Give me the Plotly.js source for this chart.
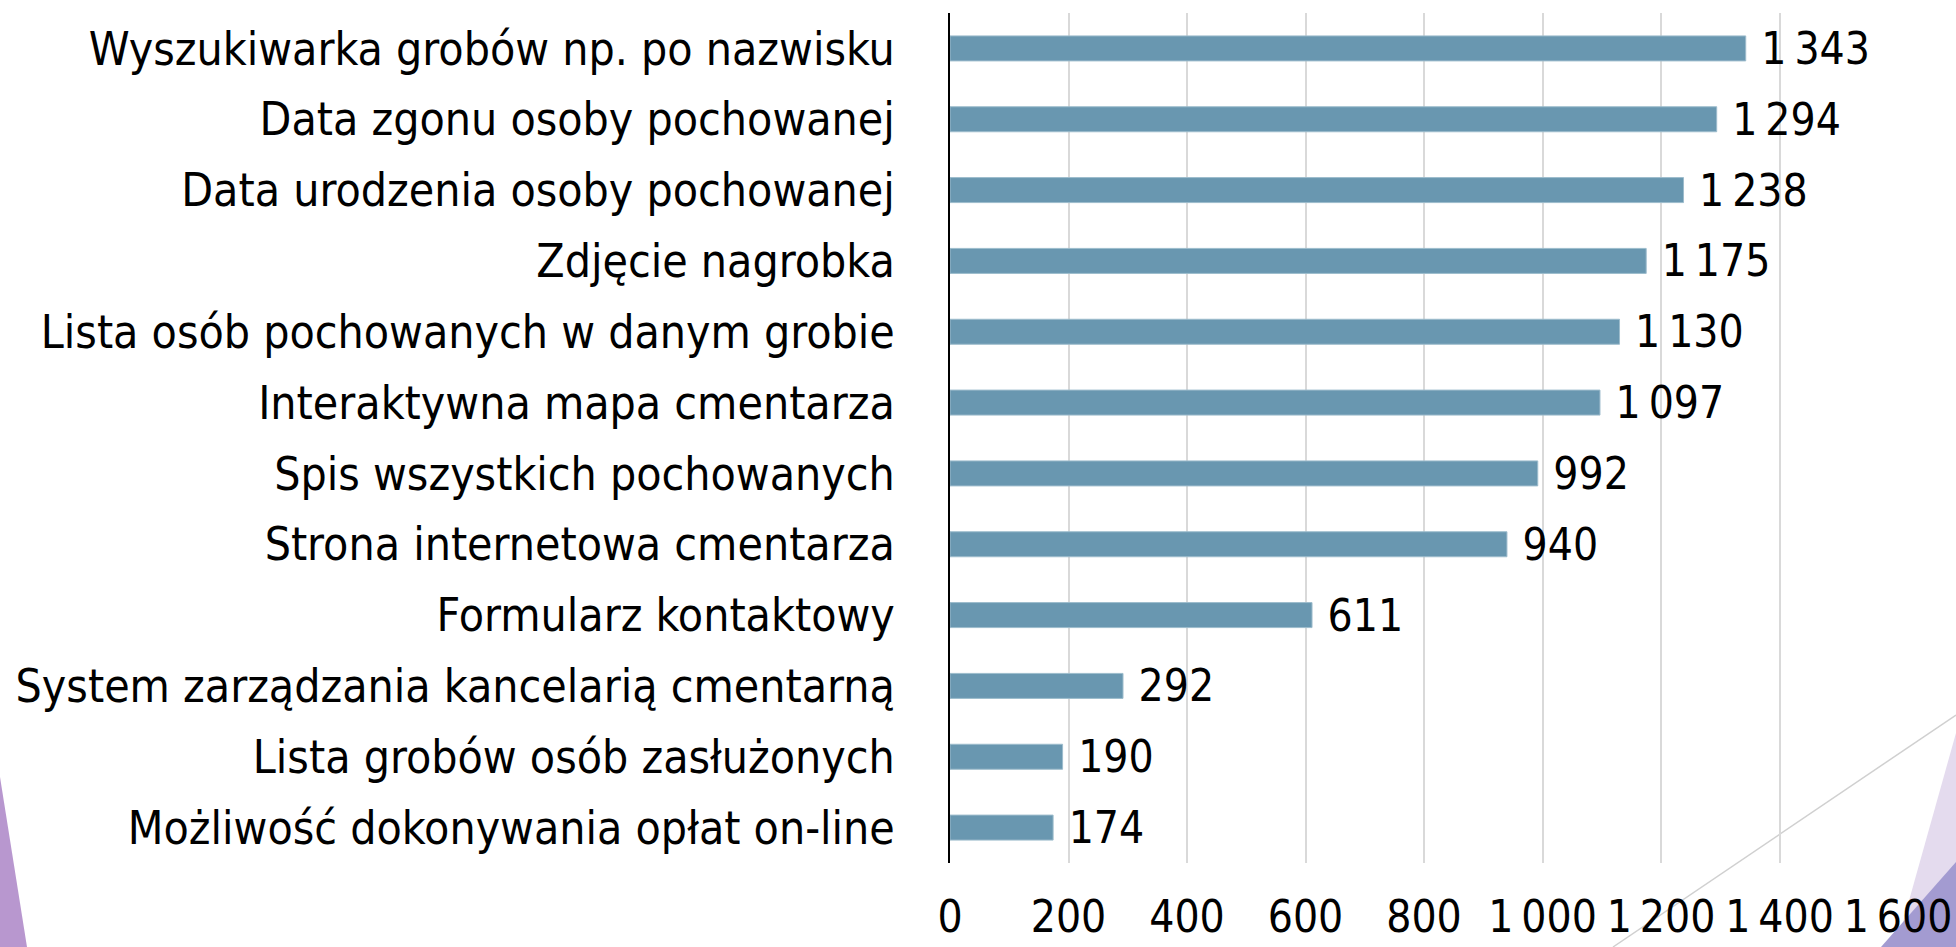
<!DOCTYPE html>
<html>
<head>
<meta charset="utf-8">
<script src="https://cdn.plot.ly/plotly-3.0.1.min.js"></script>
<style>
  html, body { margin: 0; padding: 0; background: #ffffff; }
  #chart { width: 1956px; height: 947px; }
</style>
</head>
<body>
<div id="chart"></div>
<script>
// Categories, top to bottom as in the reference
const categories = [
  "Wyszukiwarka grobów np. po nazwisku",
  "Data zgonu osoby pochowanej",
  "Data urodzenia osoby pochowanej",
  "Zdjęcie nagrobka",
  "Lista osób pochowanych w danym grobie",
  "Interaktywna mapa cmentarza",
  "Spis wszystkich pochowanych",
  "Strona internetowa cmentarza",
  "Formularz kontaktowy",
  "System zarządzania kancelarią cmentarną",
  "Lista grobów osób zasłużonych",
  "Możliwość dokonywania opłat on-line"
];
const counts = [1343, 1294, 1238, 1175, 1130, 1097, 992, 940, 611, 292, 190, 174];
const xTickValues = [0, 200, 400, 600, 800, 1000, 1200, 1400, 1600];

const FONT = "'DejaVu Sans Condensed', 'Liberation Sans Narrow', 'DejaVu Sans', sans-serif";
const W = 1956, H = 947;
const M = {l: 950, r: 58, t: 13, b: 84};
const PW = W - M.l - M.r, PH = H - M.t - M.b;
// convert page pixels to paper coordinates (decorations only)
const px = x => (x - M.l) / PW;
const py = y => (H - M.b - y) / PH;
function poly(pts) {
  return 'M' + pts.map(p => px(p[0]).toFixed(5) + ',' + py(p[1]).toFixed(5)).join(' L') + ' Z';
}

const trace = {
  type: 'bar',
  orientation: 'h',
  y: categories,
  x: counts,
  marker: { color: '#6997B0', line: { width: 1, color: '#9DBCCC' } },
  texttemplate: '\u00A0%{x:,d}',
  textposition: 'outside',
  constraintext: 'none',
  cliponaxis: false,
  textfont: { family: FONT, size: 44, color: '#000000' },
  hoverinfo: 'none'
};

const layout = {
  width: W, height: H,
  margin: M,
  paper_bgcolor: '#ffffff',
  plot_bgcolor: 'rgba(0,0,0,0)',
  separators: ',\u2009',
  showlegend: false,
  bargap: 0.647,
  font: { family: FONT, size: 46, color: '#000000' },
  xaxis: {
    range: [0, 1600],
    tickvals: xTickValues,
    tickformat: ',d',
    showgrid: true,
    gridcolor: '#D9D9D9',
    gridwidth: 2,
    zeroline: false,
    showline: false,
    ticks: '',
    ticklabelstandoff: 24,
    tickfont: { family: FONT, size: 44, color: '#000000' },
    fixedrange: true
  },
  yaxis: {
    type: 'category',
    autorange: 'reversed',
    showgrid: false,
    zeroline: false,
    showline: true,
    linecolor: '#000000',
    linewidth: 2,
    ticks: '',
    ticklabelstandoff: 44,
    tickfont: { family: FONT, size: 46, color: '#000000' },
    fixedrange: true
  },
  shapes: [
    { type: 'path', xref: 'paper', yref: 'paper', layer: 'below',
      path: poly([[0, 777], [27, 947], [0, 947]]),
      fillcolor: '#B897CF', line: { width: 0 } },
    { type: 'path', xref: 'paper', yref: 'paper', layer: 'below',
      path: poly([[1956, 733], [1896, 947], [1956, 947]]),
      fillcolor: '#E4DBEE', line: { width: 0 } },
    { type: 'path', xref: 'paper', yref: 'paper', layer: 'below',
      path: poly([[1956, 862], [1881, 947], [1956, 947]]),
      fillcolor: '#A39BD1', line: { width: 0 } },
    { type: 'line', xref: 'paper', yref: 'paper', layer: 'below',
      x0: px(1956), y0: py(715), x1: px(1613), y1: py(947),
      line: { color: '#D0D0D0', width: 1.5 } }
  ]
};

Plotly.newPlot('chart', [trace], layout, { displayModeBar: false, staticPlot: true });
</script>
</body>
</html>
